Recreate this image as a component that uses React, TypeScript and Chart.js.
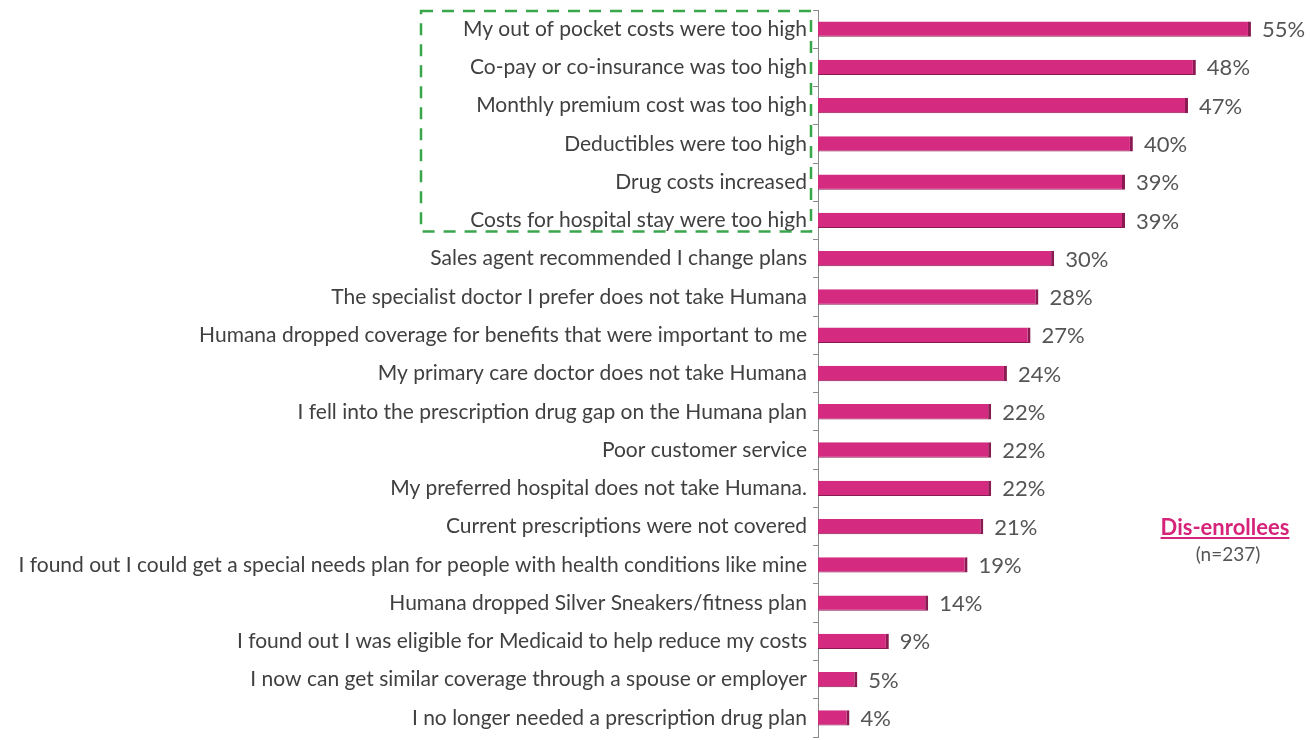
import React, { useEffect, useRef } from "react";
import { Chart, registerables } from "chart.js";

Chart.register(...registerables);

const categories: string[] = [
  "My out of pocket costs were too high",
  "Co-pay or co-insurance was too high",
  "Monthly premium cost was too high",
  "Deductibles were too high",
  "Drug costs increased",
  "Costs for hospital stay were too high",
  "Sales agent recommended I change plans",
  "The specialist doctor I prefer does not take Humana",
  "Humana dropped coverage for benefits that were important to me",
  "My primary care doctor does not take Humana",
  "I fell into the prescription drug gap on the Humana plan",
  "Poor customer service",
  "My preferred hospital does not take Humana.",
  "Current prescriptions were not covered",
  "I found out I could get a special needs plan for people with health conditions like mine",
  "Humana dropped Silver Sneakers/fitness plan",
  "I found out I was eligible for Medicaid to help reduce my costs",
  "I now can get similar coverage through a spouse or employer",
  "I no longer needed a prescription drug plan",
];

const values: number[] = [55, 48, 47, 40, 39, 39, 30, 28, 27, 24, 22, 22, 22, 21, 19, 14, 9, 5, 4];

const seriesName = "Dis-enrollees";
const sampleNote = "(n=237)";
const boxedCount = 6;

const FONT = "Lato, 'Open Sans', sans-serif";

const valueLabelPlugin = {
  id: "valueLabels",
  afterDatasetsDraw(chart: any) {
    const { ctx } = chart;
    const meta = chart.getDatasetMeta(0);
    ctx.save();
    ctx.font = `22px ${FONT}`;
    ctx.fillStyle = "#555555";
    ctx.textAlign = "left";
    ctx.textBaseline = "middle";
    meta.data.forEach((bar: any, i: number) => {
      ctx.fillText(`${values[i]}%`, bar.x + 11, bar.y + 1);
    });
    ctx.restore();
  },
};

const boxPlugin = {
  id: "dashedBox",
  afterDraw(chart: any) {
    const { ctx } = chart;
    const y = chart.scales.y;
    const step = y.getPixelForValue(1) - y.getPixelForValue(0);
    const top = y.getPixelForValue(0) - step / 2 + 1;
    const bottom = y.getPixelForValue(boxedCount - 1) + step / 2 - 8;
    const left = 421;
    const right = y.right - 7;
    ctx.save();
    ctx.strokeStyle = "#3aa64c";
    ctx.lineWidth = 2.5;
    ctx.setLineDash([12, 9]);
    ctx.strokeRect(left, top, right - left, bottom - top);
    ctx.restore();
  },
};

export default function App() {
  const ref = useRef<HTMLCanvasElement | null>(null);

  useEffect(() => {
    if (!ref.current) return;
    const chart = new Chart(ref.current, {
      type: "bar",
      data: {
        labels: categories,
        datasets: [
          {
            label: seriesName,
            data: values,
            backgroundColor: "#d42a80",
            borderColor: "#8a1a52",
            borderWidth: { top: 0, right: 3, bottom: 1, left: 0 },
            borderSkipped: false,
            barPercentage: 0.4,
            categoryPercentage: 1,
          },
        ],
      },
      options: {
        indexAxis: "y",
        animation: false,
        responsive: false,
        maintainAspectRatio: false,
        layout: { padding: { top: 10, bottom: 3, left: 0, right: 0 } },
        plugins: {
          legend: { display: false },
          tooltip: { enabled: false },
        },
        scales: {
          x: {
            display: false,
            min: 0,
            max: 62.5,
          },
          y: {
            afterFit(scale: any) {
              scale.width = 818;
              scale.paddingTop = 0;
              scale.paddingBottom = 0;
            },
            grid: {
              offset: true,
              drawOnChartArea: false,
              drawTicks: true,
              tickLength: 5,
              color: "#8a8a8a",
            },
            border: { display: true, color: "#8a8a8a", width: 1 },
            ticks: {
              padding: 6,
              color: "#404040",
              font: { family: FONT, size: 21 },
              autoSkip: false,
            },
          },
        },
      },
      plugins: [valueLabelPlugin, boxPlugin],
    });
    return () => chart.destroy();
  }, []);

  return (
    <div style={{ position: "absolute", left: 0, top: 0, width: 1310, height: 740, background: "#fff", overflow: "hidden" }}>
      <canvas ref={ref} width={1310} height={740} style={{ position: "absolute", left: 0, top: 0 }} />
      <div
        style={{
          position: "absolute",
          left: 1125,
          top: 515,
          width: 200,
          textAlign: "center",
          fontFamily: FONT,
          fontSize: 22,
          fontWeight: 700,
          lineHeight: "24px",
          color: "#d6247a",
          textDecoration: "underline",
        }}
      >
        {seriesName}
      </div>
      <div
        style={{
          position: "absolute",
          left: 1128,
          top: 544,
          width: 200,
          textAlign: "center",
          fontFamily: FONT,
          fontSize: 19,
          lineHeight: "20px",
          color: "#555",
        }}
      >
        {sampleNote}
      </div>
    </div>
  );
}
